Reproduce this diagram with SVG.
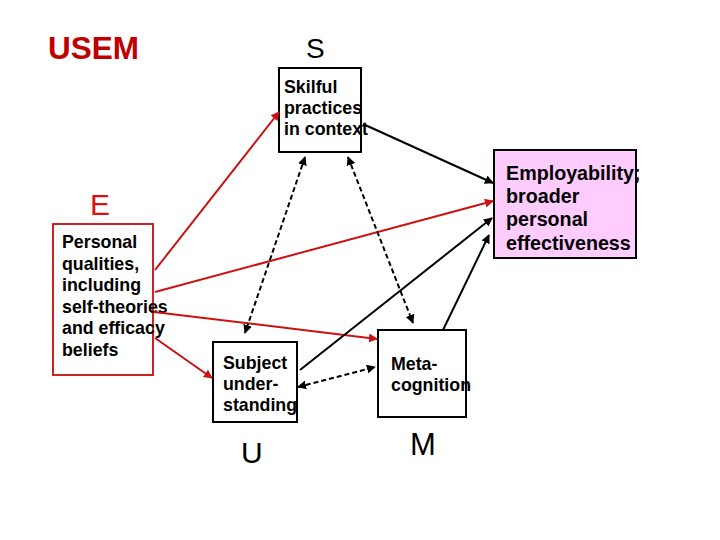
<svg xmlns="http://www.w3.org/2000/svg" width="720" height="540" viewBox="0 0 720 540">
<style>
.t{font-family:"Liberation Sans",Arial,sans-serif;font-weight:bold;font-size:17.8px;fill:#000}
.big{font-family:"Liberation Sans",Arial,sans-serif;font-size:30px}
.box{fill:#fff;stroke:#000;stroke-width:2}
.r{stroke:#cc1111;stroke-width:2;fill:none}
.k{stroke:#000;stroke-width:2;fill:none}
.d{stroke:#000;stroke-width:2;fill:none;stroke-dasharray:5,3}
</style>
<defs>
<marker id="ak" viewBox="0 0 10 10" refX="9" refY="5" markerWidth="4.5" markerHeight="4.5" orient="auto-start-reverse" markerUnits="strokeWidth"><path d="M0,0 L10,5 L0,10 z" fill="#000"/></marker>
<marker id="ar" viewBox="0 0 10 10" refX="9" refY="5" markerWidth="4.5" markerHeight="4.5" orient="auto" markerUnits="strokeWidth"><path d="M0,0 L10,5 L0,10 z" fill="#cc1111"/></marker>
</defs>
<rect width="720" height="540" fill="#fff"/>
<text x="48" y="59" style="font-family:'Liberation Sans',Arial,sans-serif;font-weight:bold;font-size:31.5px;fill:#c00000">USEM</text>
<text x="306" y="58" class="big" style="font-size:28px;fill:#000">S</text>
<text x="90" y="215" class="big" style="fill:#dd1111">E</text>
<text x="241" y="463" class="big" style="fill:#000">U</text>
<text x="410" y="455" class="big" style="font-size:31px;fill:#000">M</text>

<g id="skilful">
<rect x="279" y="68" width="82" height="84" class="box"/>
<text class="t"><tspan x="284" y="93">Skilful</tspan><tspan x="284" y="114">practices</tspan><tspan x="284" y="135">in context</tspan></text>
</g>
<g id="employability">
<rect x="494" y="150" width="142" height="108" fill="#ffccff" stroke="#000" stroke-width="2"/>
<text class="t" style="font-size:19.7px"><tspan x="506" y="180">Employability;</tspan><tspan x="506" y="203">broader</tspan><tspan x="506" y="226">personal</tspan><tspan x="506" y="250">effectiveness</tspan></text>
</g>
<g id="personal">
<rect x="53" y="224" width="100" height="151" fill="#fff" stroke="#cc2222" stroke-width="2"/>
<text class="t"><tspan x="62" y="248">Personal</tspan><tspan x="62" y="270">qualities,</tspan><tspan x="62" y="291">including</tspan><tspan x="62" y="313">self-theories</tspan><tspan x="62" y="334">and efficacy</tspan><tspan x="62" y="356">beliefs</tspan></text>
</g>
<g id="subject">
<rect x="213" y="342" width="84" height="80" class="box"/>
<text class="t"><tspan x="223" y="369">Subject</tspan><tspan x="223" y="390">under-</tspan><tspan x="223" y="411">standing</tspan></text>
</g>
<g id="meta">
<rect x="378" y="330" width="88" height="87" class="box"/>
<text class="t"><tspan x="391" y="370">Meta-</tspan><tspan x="391" y="391">cognition</tspan></text>
</g>

<g id="connectors">
<line x1="155" y1="270" x2="279" y2="112" class="r" marker-end="url(#ar)"/>
<line x1="155" y1="292" x2="493" y2="201" class="r" marker-end="url(#ar)"/>
<line x1="154" y1="312" x2="377" y2="339" class="r" marker-end="url(#ar)"/>
<line x1="155" y1="338" x2="212" y2="378" class="r" marker-end="url(#ar)"/>
<line x1="363" y1="124" x2="493" y2="183" class="k" marker-end="url(#ak)"/>
<line x1="300" y1="370" x2="492" y2="218" class="k" marker-end="url(#ak)"/>
<line x1="443" y1="330" x2="489" y2="235" class="k" marker-end="url(#ak)"/>
<line x1="305" y1="157" x2="245" y2="333" class="d" marker-start="url(#ak)" marker-end="url(#ak)"/>
<line x1="348" y1="157" x2="413" y2="323" class="d" marker-start="url(#ak)" marker-end="url(#ak)"/>
<line x1="298" y1="387" x2="375" y2="367" class="d" marker-start="url(#ak)" marker-end="url(#ak)"/>
</g>
</svg>
